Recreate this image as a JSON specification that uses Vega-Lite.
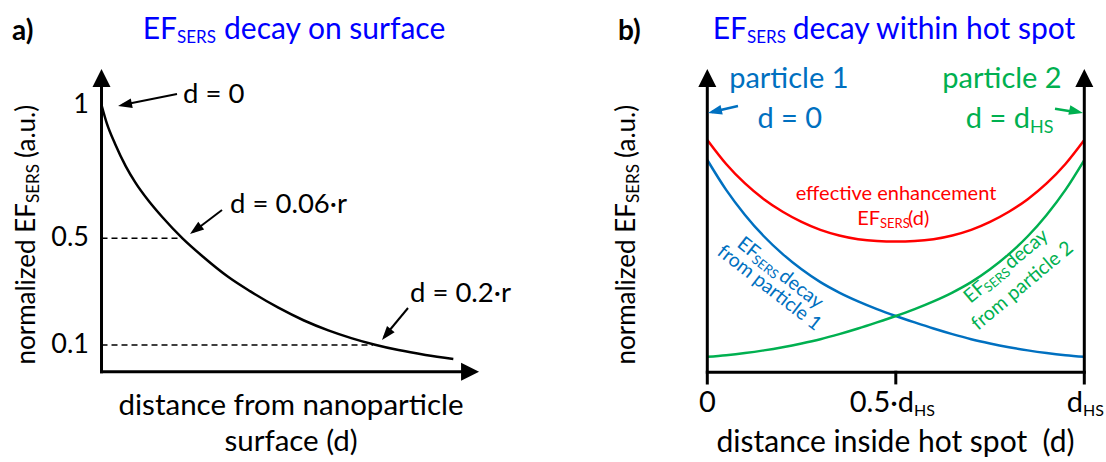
{
  "$schema": "https://vega.github.io/schema/vega-lite/v6.json",
  "padding": 0,
  "spacing": 0,
  "bounds": "flush",
  "background": "white",
  "config": {"view": {"stroke": null}, "text": {"font": "Lato"}},
  "datasets": {
    "curveA": [
      {"x": 0.0, "y": 1.0}, {"x": 0.004, "y": 0.93}, {"x": 0.01, "y": 0.855}, {"x": 0.018, "y": 0.77},
      {"x": 0.025, "y": 0.71}, {"x": 0.035, "y": 0.64}, {"x": 0.045, "y": 0.58}, {"x": 0.06, "y": 0.5},
      {"x": 0.075, "y": 0.432}, {"x": 0.094, "y": 0.355}, {"x": 0.11, "y": 0.302}, {"x": 0.131, "y": 0.24},
      {"x": 0.15, "y": 0.192}, {"x": 0.168, "y": 0.155}, {"x": 0.185, "y": 0.126}, {"x": 0.2026, "y": 0.101},
      {"x": 0.22, "y": 0.081}, {"x": 0.24, "y": 0.063}, {"x": 0.2606, "y": 0.048}
    ],
    "rulesA": [
      {"role": "axis", "x": 0, "y": 0, "x2": 0, "y2": 1.09},
      {"role": "axis", "x": 0, "y": 0, "x2": 0.27, "y2": 0},
      {"role": "dash", "x": 0, "y": 0.5, "x2": 0.0596, "y2": 0.5},
      {"role": "dash", "x": 0, "y": 0.1, "x2": 0.2011, "y2": 0.1},
      {"role": "arrow", "x": 0.05593, "y": 1.0413, "x2": 0.01519, "y2": 1.0},
      {"role": "arrow", "x": 0.08926, "y": 0.6063, "x2": 0.06778, "y2": 0.5238},
      {"role": "arrow", "x": 0.22704, "y": 0.2388, "x2": 0.20926, "y2": 0.1301}
    ],
    "headsA": [
      {"role": "up", "x": 0, "y": 1.1012},
      {"role": "right", "x": 0.273, "y": 0},
      {"role": "a1", "x": 0.01733, "y": 1.0015},
      {"role": "a2", "x": 0.0697, "y": 0.5321},
      {"role": "a3", "x": 0.21104, "y": 0.1391}
    ],
    "textA": [
      {"role": "panel", "x": -0.0663, "y": 1.2437, "text": "a)"},
      {"role": "titleR", "x": 0.05593, "y": 1.2475, "text": "EF"},
      {"role": "titleSub", "x": 0.05593, "y": 1.2325, "text": "SERS"},
      {"role": "titleL", "x": 0.09074, "y": 1.2475, "text": "decay on surface"},
      {"role": "tick", "x": -0.00926, "y": 1, "text": "1"},
      {"role": "tick", "x": -0.00926, "y": 0.5, "text": "0.5"},
      {"role": "tick", "x": -0.00926, "y": 0.1, "text": "0.1"},
      {"role": "note", "x": 0.06037, "y": 1.0075, "text": "d = 0"},
      {"role": "note", "x": 0.0952, "y": 0.5949, "text": "d = 0.06·r"},
      {"role": "note", "x": 0.2285, "y": 0.2621, "text": "d = 0.2·r"},
      {"role": "xtitle", "x": 0.1404, "y": -0.1624, "text": "distance from nanoparticle"},
      {"role": "xtitle", "x": 0.1404, "y": -0.2973, "text": "surface (d)"},
      {"role": "ytitleR", "x": -0.0493, "y": 0.6326, "text": "normalized EF"},
      {"role": "ytitleSub", "x": -0.0463, "y": 0.6326, "text": "SERS"},
      {"role": "ytitleL", "x": -0.0493, "y": 0.8013, "text": "(a.u.)"}
    ],
    "curveB": [
      {"series": "p1", "x": 0.0, "y": 0.796}, {"series": "p1", "x": 0.05, "y": 0.684}, {"series": "p1", "x": 0.1, "y": 0.59},
      {"series": "p1", "x": 0.15, "y": 0.51}, {"series": "p1", "x": 0.2, "y": 0.443}, {"series": "p1", "x": 0.25, "y": 0.386},
      {"series": "p1", "x": 0.3, "y": 0.338}, {"series": "p1", "x": 0.35, "y": 0.299}, {"series": "p1", "x": 0.4, "y": 0.266},
      {"series": "p1", "x": 0.45, "y": 0.237}, {"series": "p1", "x": 0.5, "y": 0.211}, {"series": "p1", "x": 0.55, "y": 0.187},
      {"series": "p1", "x": 0.6, "y": 0.164}, {"series": "p1", "x": 0.65, "y": 0.143}, {"series": "p1", "x": 0.7, "y": 0.124},
      {"series": "p1", "x": 0.75, "y": 0.108}, {"series": "p1", "x": 0.8, "y": 0.094}, {"series": "p1", "x": 0.85, "y": 0.082},
      {"series": "p1", "x": 0.9, "y": 0.072}, {"series": "p1", "x": 0.95, "y": 0.064}, {"series": "p1", "x": 1.0, "y": 0.058},
      {"series": "p2", "x": 1.0, "y": 0.796}, {"series": "p2", "x": 0.95, "y": 0.684}, {"series": "p2", "x": 0.9, "y": 0.59},
      {"series": "p2", "x": 0.85, "y": 0.51}, {"series": "p2", "x": 0.8, "y": 0.443}, {"series": "p2", "x": 0.75, "y": 0.386},
      {"series": "p2", "x": 0.7, "y": 0.338}, {"series": "p2", "x": 0.65, "y": 0.299}, {"series": "p2", "x": 0.6, "y": 0.266},
      {"series": "p2", "x": 0.55, "y": 0.237}, {"series": "p2", "x": 0.5, "y": 0.211}, {"series": "p2", "x": 0.45, "y": 0.187},
      {"series": "p2", "x": 0.4, "y": 0.164}, {"series": "p2", "x": 0.35, "y": 0.143}, {"series": "p2", "x": 0.3, "y": 0.124},
      {"series": "p2", "x": 0.25, "y": 0.108}, {"series": "p2", "x": 0.2, "y": 0.094}, {"series": "p2", "x": 0.15, "y": 0.082},
      {"series": "p2", "x": 0.1, "y": 0.072}, {"series": "p2", "x": 0.05, "y": 0.064}, {"series": "p2", "x": 0.0, "y": 0.058},
      {"series": "eff", "x": 0.0, "y": 0.871}, {"series": "eff", "x": 0.05, "y": 0.781}, {"series": "eff", "x": 0.1, "y": 0.708},
      {"series": "eff", "x": 0.15, "y": 0.649}, {"series": "eff", "x": 0.2, "y": 0.602}, {"series": "eff", "x": 0.25, "y": 0.564},
      {"series": "eff", "x": 0.3, "y": 0.534}, {"series": "eff", "x": 0.35, "y": 0.513}, {"series": "eff", "x": 0.4, "y": 0.499},
      {"series": "eff", "x": 0.45, "y": 0.492}, {"series": "eff", "x": 0.5, "y": 0.49}, {"series": "eff", "x": 0.55, "y": 0.492},
      {"series": "eff", "x": 0.6, "y": 0.499}, {"series": "eff", "x": 0.65, "y": 0.513}, {"series": "eff", "x": 0.7, "y": 0.534},
      {"series": "eff", "x": 0.75, "y": 0.564}, {"series": "eff", "x": 0.8, "y": 0.602}, {"series": "eff", "x": 0.85, "y": 0.649},
      {"series": "eff", "x": 0.9, "y": 0.708}, {"series": "eff", "x": 0.95, "y": 0.781}, {"series": "eff", "x": 1.0, "y": 0.871}
    ],
    "rulesB": [
      {"role": "axis", "x": 0, "y": -0.04, "x2": 0, "y2": 1.09},
      {"role": "axis", "x": 1, "y": -0.04, "x2": 1, "y2": 1.09},
      {"role": "axis", "x": 0, "y": 0, "x2": 1, "y2": 0},
      {"role": "axis", "x": 0.5, "y": -0.04, "x2": 0.5, "y2": 0}
    ],
    "arrowsB": [
      {"series": "p1", "x": 0.0814, "y": 0.9985, "x2": 0.01247, "y2": 0.976},
      {"series": "p2", "x": 0.9223, "y": 0.988, "x2": 0.9753, "y2": 0.976}
    ],
    "headsB": [
      {"role": "up", "x": 0, "y": 1.1035},
      {"role": "up", "x": 1, "y": 1.1035},
      {"role": "p1", "x": 0.01989, "y": 0.9783},
      {"role": "p2", "x": 0.9785, "y": 0.9779}
    ],
    "textB": [
      {"role": "panel", "x": -0.2369, "y": 1.2462, "text": "b)"},
      {"role": "titleR", "x": 0.1053, "y": 1.2497, "text": "EF"},
      {"role": "titleSub", "x": 0.1053, "y": 1.2347, "text": "SERS"},
      {"role": "titleL", "x": 0.2268, "y": 1.2497, "text": "decay within hot spot"},
      {"role": "tickC", "x": 0, "y": -0.1489, "text": "0"},
      {"role": "tickR", "x": 0.5483, "y": -0.1489, "text": "0.5·d"},
      {"role": "tickR", "x": 0.9967, "y": -0.1489, "text": "d"},
      {"role": "tickSub", "x": 0.5483, "y": -0.1639, "text": "HS"},
      {"role": "tickSub", "x": 0.9967, "y": -0.1639, "text": "HS"},
      {"role": "xtitle", "x": 0.4992, "y": -0.299, "text": "distance inside hot spot \u00a0(d)"},
      {"role": "ytitleR", "x": -0.1917, "y": 0.6348, "text": "normalized EF"},
      {"role": "ytitleSub", "x": -0.1812, "y": 0.6348, "text": "SERS"},
      {"role": "ytitleL", "x": -0.1917, "y": 0.8035, "text": "(a.u.)"},
      {"role": "pC", "series": "p1", "x": 0.2162, "y": 1.066, "text": "particle 1"},
      {"role": "pC", "series": "p1", "x": 0.2188, "y": 0.916, "text": "d = 0"},
      {"role": "pC", "series": "p2", "x": 0.7817, "y": 1.066, "text": "particle 2"},
      {"role": "pR", "series": "p2", "x": 0.856, "y": 0.916, "text": "d = d"},
      {"role": "pSub", "series": "p2", "x": 0.856, "y": 0.8973, "text": "HS"},
      {"role": "effC", "x": 0.5005, "y": 0.646, "text": "effective enhancement"},
      {"role": "effR", "x": 0.4581, "y": 0.5523, "text": "EF"},
      {"role": "effSub", "x": 0.4581, "y": 0.541, "text": "SERS"},
      {"role": "effL", "x": 0.5324, "y": 0.5523, "text": "(d)"},
      {"role": "b38", "x": 0.0761, "y": 0.4736, "text": "EF"},
      {"role": "b38sub", "x": 0.1152, "y": 0.4162, "text": "SERS"},
      {"role": "b38", "x": 0.187, "y": 0.3513, "text": "decay"},
      {"role": "b38", "x": 0.0231, "y": 0.4436, "text": "from particle 1"},
      {"role": "g40", "x": 0.6981, "y": 0.2561, "text": "EF"},
      {"role": "g40sub", "x": 0.7459, "y": 0.2981, "text": "SERS"},
      {"role": "g40", "x": 0.8058, "y": 0.384, "text": "decay"},
      {"role": "g40", "x": 0.718, "y": 0.1549, "text": "from particle 2"}
    ]
  },
  "hconcat": [
    {
      "width": 553,
      "height": 462,
      "encoding": {
        "x": {"field": "x", "type": "quantitative", "scale": {"domain": [-0.07519, 0.33444], "nice": false, "zero": false}, "axis": null},
        "y": {"field": "y", "type": "quantitative", "scale": {"domain": [-0.3386, 1.3937], "nice": false, "zero": false}, "axis": null}
      },
      "layer": [
        {"data": {"name": "rulesA"}, "transform": [{"filter": "datum.role === 'dash'"}], "mark": {"type": "rule", "color": "black", "strokeWidth": 1.5, "strokeDash": [6, 4]}, "encoding": {"x2": {"field": "x2"}, "y2": {"field": "y2"}}},
        {"data": {"name": "curveA"}, "mark": {"type": "line", "color": "black", "strokeWidth": 2.5, "interpolate": "monotone"}, "encoding": {}},
        {"data": {"name": "rulesA"}, "transform": [{"filter": "datum.role === 'axis'"}], "mark": {"type": "rule", "color": "black", "strokeWidth": 3, "strokeCap": "square"}, "encoding": {"x2": {"field": "x2"}, "y2": {"field": "y2"}}},
        {"data": {"name": "rulesA"}, "transform": [{"filter": "datum.role === 'arrow'"}], "mark": {"type": "rule", "color": "black", "strokeWidth": 2}, "encoding": {"x2": {"field": "x2"}, "y2": {"field": "y2"}}},
        {"data": {"name": "headsA"}, "transform": [{"filter": "datum.role === 'up'"}], "mark": {"type": "point", "shape": "M0,-1L1,1L-1,1Z", "size": 324, "filled": true, "color": "black", "opacity": 1}, "encoding": {}},
        {"data": {"name": "headsA"}, "transform": [{"filter": "datum.role === 'right'"}], "mark": {"type": "point", "shape": "M0,-1L1,1L-1,1Z", "size": 324, "angle": 90, "filled": true, "color": "black", "opacity": 1}, "encoding": {}},
        {"data": {"name": "headsA"}, "transform": [{"filter": "datum.role === 'a1'"}], "mark": {"type": "point", "shape": "M0,-1L0.7,1L-0.7,1Z", "size": 196, "angle": 258.5, "filled": true, "color": "black", "opacity": 1}, "encoding": {}},
        {"data": {"name": "headsA"}, "transform": [{"filter": "datum.role === 'a2'"}], "mark": {"type": "point", "shape": "M0,-1L0.7,1L-0.7,1Z", "size": 196, "angle": 233.1, "filled": true, "color": "black", "opacity": 1}, "encoding": {}},
        {"data": {"name": "headsA"}, "transform": [{"filter": "datum.role === 'a3'"}], "mark": {"type": "point", "shape": "M0,-1L0.7,1L-0.7,1Z", "size": 196, "angle": 219.1, "filled": true, "color": "black", "opacity": 1}, "encoding": {}},
        {"data": {"name": "textA"}, "transform": [{"filter": "datum.role === 'panel'"}], "mark": {"type": "text", "fontSize": 28, "fontWeight": "bold", "align": "left", "baseline": "alphabetic", "color": "black"}, "encoding": {"text": {"field": "text"}}},
        {"data": {"name": "textA"}, "transform": [{"filter": "datum.role === 'titleR'"}], "mark": {"type": "text", "fontSize": 30, "align": "right", "baseline": "alphabetic", "color": "#0000FF"}, "encoding": {"text": {"field": "text"}}},
        {"data": {"name": "textA"}, "transform": [{"filter": "datum.role === 'titleSub'"}], "mark": {"type": "text", "fontSize": 17, "align": "left", "baseline": "alphabetic", "color": "#0000FF"}, "encoding": {"text": {"field": "text"}}},
        {"data": {"name": "textA"}, "transform": [{"filter": "datum.role === 'titleL'"}], "mark": {"type": "text", "fontSize": 30, "align": "left", "baseline": "alphabetic", "color": "#0000FF"}, "encoding": {"text": {"field": "text"}}},
        {"data": {"name": "textA"}, "transform": [{"filter": "datum.role === 'tick'"}], "mark": {"type": "text", "fontSize": 27, "align": "right", "baseline": "middle", "color": "black"}, "encoding": {"text": {"field": "text"}}},
        {"data": {"name": "textA"}, "transform": [{"filter": "datum.role === 'note'"}], "mark": {"type": "text", "fontSize": 27.5, "align": "left", "baseline": "alphabetic", "color": "black"}, "encoding": {"text": {"field": "text"}}},
        {"data": {"name": "textA"}, "transform": [{"filter": "datum.role === 'xtitle'"}], "mark": {"type": "text", "fontSize": 29.5, "align": "center", "baseline": "alphabetic", "color": "black"}, "encoding": {"text": {"field": "text"}}},
        {"data": {"name": "textA"}, "transform": [{"filter": "datum.role === 'ytitleR'"}], "mark": {"type": "text", "fontSize": 26, "angle": 270, "align": "right", "baseline": "alphabetic", "color": "black"}, "encoding": {"text": {"field": "text"}}},
        {"data": {"name": "textA"}, "transform": [{"filter": "datum.role === 'ytitleSub'"}], "mark": {"type": "text", "fontSize": 17, "angle": 270, "align": "left", "baseline": "alphabetic", "color": "black"}, "encoding": {"text": {"field": "text"}}},
        {"data": {"name": "textA"}, "transform": [{"filter": "datum.role === 'ytitleL'"}], "mark": {"type": "text", "fontSize": 26, "angle": 270, "align": "left", "baseline": "alphabetic", "color": "black"}, "encoding": {"text": {"field": "text"}}}
      ]
    },
    {
      "width": 553,
      "height": 462,
      "encoding": {
        "x": {"field": "x", "type": "quantitative", "scale": {"domain": [-0.40928, 1.05756], "nice": false, "zero": false}, "axis": null},
        "y": {"field": "y", "type": "quantitative", "scale": {"domain": [-0.3366, 1.396], "nice": false, "zero": false}, "axis": null}
      },
      "layer": [
        {"data": {"name": "curveB"}, "mark": {"type": "line", "strokeWidth": 2.5, "interpolate": "monotone"}, "encoding": {"color": {"field": "series", "type": "nominal", "scale": {"domain": ["p1", "p2", "eff"], "range": ["#0070C0", "#00B050", "#FF0000"]}, "legend": null}}},
        {"data": {"name": "rulesB"}, "mark": {"type": "rule", "color": "black", "strokeWidth": 3, "strokeCap": "square"}, "encoding": {"x2": {"field": "x2"}, "y2": {"field": "y2"}}},
        {"data": {"name": "arrowsB"}, "mark": {"type": "rule", "strokeWidth": 2.5}, "encoding": {"x2": {"field": "x2"}, "y2": {"field": "y2"}, "color": {"field": "series", "type": "nominal", "scale": {"domain": ["p1", "p2", "eff"], "range": ["#0070C0", "#00B050", "#FF0000"]}, "legend": null}}},
        {"data": {"name": "headsB"}, "transform": [{"filter": "datum.role === 'up'"}], "mark": {"type": "point", "shape": "M0,-1L1,1L-1,1Z", "size": 324, "filled": true, "color": "black", "opacity": 1}, "encoding": {}},
        {"data": {"name": "headsB"}, "transform": [{"filter": "datum.role === 'p1'"}], "mark": {"type": "point", "shape": "M0,-1L0.7,1L-0.7,1Z", "size": 196, "angle": 257, "filled": true, "color": "#0070C0", "opacity": 1}, "encoding": {}},
        {"data": {"name": "headsB"}, "transform": [{"filter": "datum.role === 'p2'"}], "mark": {"type": "point", "shape": "M0,-1L0.7,1L-0.7,1Z", "size": 196, "angle": 102, "filled": true, "color": "#00B050", "opacity": 1}, "encoding": {}},
        {"data": {"name": "textB"}, "transform": [{"filter": "datum.role === 'panel'"}], "mark": {"type": "text", "fontSize": 28, "fontWeight": "bold", "align": "left", "baseline": "alphabetic", "color": "black"}, "encoding": {"text": {"field": "text"}}},
        {"data": {"name": "textB"}, "transform": [{"filter": "datum.role === 'titleR'"}], "mark": {"type": "text", "fontSize": 30, "align": "right", "baseline": "alphabetic", "color": "#0000FF"}, "encoding": {"text": {"field": "text"}}},
        {"data": {"name": "textB"}, "transform": [{"filter": "datum.role === 'titleSub'"}], "mark": {"type": "text", "fontSize": 17, "align": "left", "baseline": "alphabetic", "color": "#0000FF"}, "encoding": {"text": {"field": "text"}}},
        {"data": {"name": "textB"}, "transform": [{"filter": "datum.role === 'titleL'"}], "mark": {"type": "text", "fontSize": 30, "align": "left", "baseline": "alphabetic", "color": "#0000FF"}, "encoding": {"text": {"field": "text"}}},
        {"data": {"name": "textB"}, "transform": [{"filter": "datum.role === 'tickC'"}], "mark": {"type": "text", "fontSize": 29, "align": "center", "baseline": "alphabetic", "color": "black"}, "encoding": {"text": {"field": "text"}}},
        {"data": {"name": "textB"}, "transform": [{"filter": "datum.role === 'xtitle'"}], "mark": {"type": "text", "fontSize": 30, "align": "center", "baseline": "alphabetic", "color": "black"}, "encoding": {"text": {"field": "text"}}},
        {"data": {"name": "textB"}, "transform": [{"filter": "datum.role === 'tickR'"}], "mark": {"type": "text", "fontSize": 29, "align": "right", "baseline": "alphabetic", "color": "black"}, "encoding": {"text": {"field": "text"}}},
        {"data": {"name": "textB"}, "transform": [{"filter": "datum.role === 'tickSub'"}], "mark": {"type": "text", "fontSize": 16, "align": "left", "baseline": "alphabetic", "color": "black"}, "encoding": {"text": {"field": "text"}}},
        {"data": {"name": "textB"}, "transform": [{"filter": "datum.role === 'ytitleR'"}], "mark": {"type": "text", "fontSize": 26, "angle": 270, "align": "right", "baseline": "alphabetic", "color": "black"}, "encoding": {"text": {"field": "text"}}},
        {"data": {"name": "textB"}, "transform": [{"filter": "datum.role === 'ytitleSub'"}], "mark": {"type": "text", "fontSize": 17, "angle": 270, "align": "left", "baseline": "alphabetic", "color": "black"}, "encoding": {"text": {"field": "text"}}},
        {"data": {"name": "textB"}, "transform": [{"filter": "datum.role === 'ytitleL'"}], "mark": {"type": "text", "fontSize": 26, "angle": 270, "align": "left", "baseline": "alphabetic", "color": "black"}, "encoding": {"text": {"field": "text"}}},
        {"data": {"name": "textB"}, "transform": [{"filter": "datum.role === 'pC'"}], "mark": {"type": "text", "fontSize": 29, "align": "center", "baseline": "alphabetic"}, "encoding": {"text": {"field": "text"}, "color": {"field": "series", "type": "nominal", "scale": {"domain": ["p1", "p2", "eff"], "range": ["#0070C0", "#00B050", "#FF0000"]}, "legend": null}}},
        {"data": {"name": "textB"}, "transform": [{"filter": "datum.role === 'pR'"}], "mark": {"type": "text", "fontSize": 29, "align": "right", "baseline": "alphabetic", "color": "#00B050"}, "encoding": {"text": {"field": "text"}}},
        {"data": {"name": "textB"}, "transform": [{"filter": "datum.role === 'pSub'"}], "mark": {"type": "text", "fontSize": 18, "align": "left", "baseline": "alphabetic", "color": "#00B050"}, "encoding": {"text": {"field": "text"}}},
        {"data": {"name": "textB"}, "transform": [{"filter": "datum.role === 'effC'"}], "mark": {"type": "text", "fontSize": 20, "align": "center", "baseline": "alphabetic", "color": "#FF0000"}, "encoding": {"text": {"field": "text"}}},
        {"data": {"name": "textB"}, "transform": [{"filter": "datum.role === 'effR'"}], "mark": {"type": "text", "fontSize": 20, "align": "right", "baseline": "alphabetic", "color": "#FF0000"}, "encoding": {"text": {"field": "text"}}},
        {"data": {"name": "textB"}, "transform": [{"filter": "datum.role === 'effSub'"}], "mark": {"type": "text", "fontSize": 13, "align": "left", "baseline": "alphabetic", "color": "#FF0000"}, "encoding": {"text": {"field": "text"}}},
        {"data": {"name": "textB"}, "transform": [{"filter": "datum.role === 'effL'"}], "mark": {"type": "text", "fontSize": 20, "align": "left", "baseline": "alphabetic", "color": "#FF0000"}, "encoding": {"text": {"field": "text"}}},
        {"data": {"name": "textB"}, "transform": [{"filter": "datum.role === 'b38'"}], "mark": {"type": "text", "fontSize": 19.5, "angle": 38, "align": "left", "baseline": "alphabetic", "color": "#0070C0"}, "encoding": {"text": {"field": "text"}}},
        {"data": {"name": "textB"}, "transform": [{"filter": "datum.role === 'b38sub'"}], "mark": {"type": "text", "fontSize": 13, "angle": 38, "align": "left", "baseline": "alphabetic", "color": "#0070C0"}, "encoding": {"text": {"field": "text"}}},
        {"data": {"name": "textB"}, "transform": [{"filter": "datum.role === 'g40'"}], "mark": {"type": "text", "fontSize": 19.5, "angle": 320, "align": "left", "baseline": "alphabetic", "color": "#00B050"}, "encoding": {"text": {"field": "text"}}},
        {"data": {"name": "textB"}, "transform": [{"filter": "datum.role === 'g40sub'"}], "mark": {"type": "text", "fontSize": 13, "angle": 320, "align": "left", "baseline": "alphabetic", "color": "#00B050"}, "encoding": {"text": {"field": "text"}}}
      ]
    }
  ]
}
